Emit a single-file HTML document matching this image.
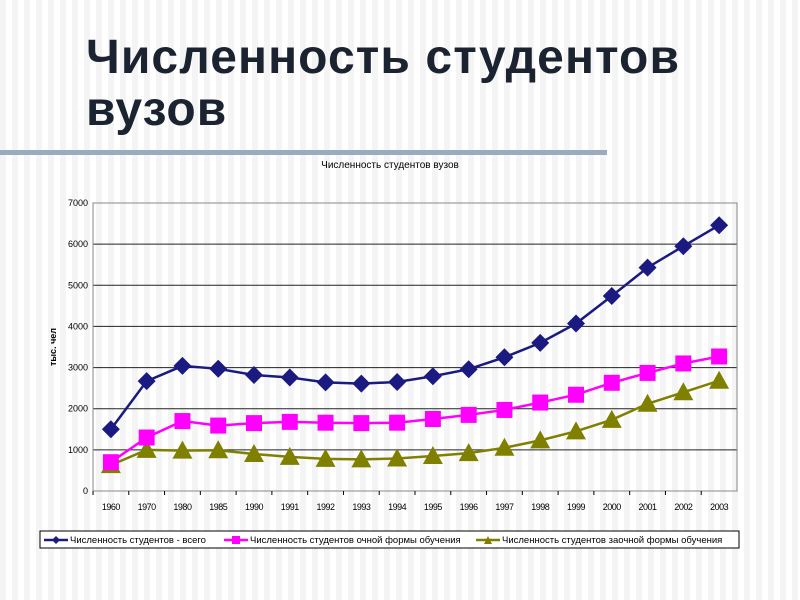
<!DOCTYPE html>
<html><head><meta charset="utf-8"><style>
html,body{margin:0;padding:0;width:800px;height:600px;overflow:hidden;font-family:"Liberation Sans","DejaVu Sans",sans-serif;}
body{background:repeating-linear-gradient(90deg,#f4f4f4 0,#f4f4f4 6px,#ffffff 6px,#ffffff 12px);}
</style></head><body>
<div style="position:absolute;left:86px;top:32px;font:bold 48px 'Liberation Sans',sans-serif;letter-spacing:1.1px;color:#1c2330;line-height:52px;">Численность студентов<br>вузов</div>
<div style="position:absolute;left:0;top:150px;width:607px;height:5px;background:#9aaabf;"></div>
<svg id="chart" width="800" height="600" style="position:absolute;left:0;top:0">
<text x="390" y="168" font-size="10" text-anchor="middle" font-family="Liberation Sans">Численность студентов вузов</text>
<text transform="translate(56,347) rotate(-90)" font-size="9" font-weight="bold" text-anchor="middle" font-family="Liberation Sans">тыс. чел</text>
<g id="grid"></g><g id="series"></g>
<g>
<rect x="40" y="531" width="699" height="17" fill="#fff" stroke="#000" stroke-width="1"/>
<line x1="44" y1="540" x2="68" y2="540" stroke="#1a1a80" stroke-width="2.5"/><path d="M56 536 L60 540 L56 544 L52 540Z" fill="#1a1a80"/>
<text x="70" y="543" font-size="9.5" font-family="Liberation Sans">Численность студентов - всего</text>
<line x1="224" y1="540" x2="248" y2="540" stroke="#ff00ff" stroke-width="2.5"/><rect x="232" y="536" width="8" height="8" fill="#ff00ff"/>
<text x="250" y="543" font-size="9.5" font-family="Liberation Sans">Численность студентов очной формы обучения</text>
<line x1="476" y1="540" x2="500" y2="540" stroke="#808000" stroke-width="2.5"/><path d="M488 536 L492 544 L484 544Z" fill="#808000"/>
<text x="502" y="543" font-size="9.5" font-family="Liberation Sans">Численность студентов заочной формы обучения</text>
</g>
</svg>
<script>
const categories=["1960","1970","1980","1985","1990","1991","1992","1993","1994","1995","1996","1997","1998","1999","2000","2001","2002","2003"];
const totalValues=[1500,2670,3040,2970,2820,2760,2640,2610,2650,2790,2960,3250,3600,4070,4740,5430,5950,6460];
const dayValues=[700,1300,1700,1590,1650,1680,1660,1650,1660,1750,1850,1970,2150,2340,2630,2870,3100,3270];
const extramuralValues=[630,1000,980,990,900,830,780,770,790,850,920,1050,1230,1450,1730,2120,2400,2680];
const yTicks=[0,1000,2000,3000,4000,5000,6000,7000];
const NS="http://www.w3.org/2000/svg";
const X0=93,X1=737,Y0=491,Y1=203;
const step=(X1-X0)/categories.length;
const xs=i=>X0+step*(i+0.5);
const ys=v=>Y0-(v/7000)*(Y0-Y1);
function mk(t,a,p){const e=document.createElementNS(NS,t);for(const k in a)e.setAttribute(k,a[k]);p.appendChild(e);return e;}
const g=document.getElementById('grid');
yTicks.forEach(v=>{
 const l=mk('line',{x1:X0,x2:X1,y1:ys(v),y2:ys(v),stroke:v===0?'#000':'#222','stroke-width':1},g);
 
 
 const t=mk('text',{x:X0-5,y:ys(v)+3,'font-size':9,'text-anchor':'end','font-family':'Liberation Sans'},g);t.textContent=v;
 
 
});
mk('line',{x1:X0,x2:X0,y1:Y1,y2:Y0,stroke:'#000'},g);
mk('rect',{x:X0,y:Y1,width:X1-X0,height:Y0-Y1,fill:'none',stroke:'#888'},g);
categories.forEach((c,i)=>{
 mk('line',{x1:X0+step*i,x2:X0+step*i,y1:Y0,y2:Y0+4,stroke:'#000'},g);
 const t=mk('text',{x:xs(i),y:Y0+19,'font-size':9,'text-anchor':'middle','font-family':'Liberation Sans','letter-spacing':'-0.5'},g);t.textContent=c;
 
 
});
const s=document.getElementById('series');
function series(vals,color,shape,name){
 const pl=mk('polyline',{points:vals.map((v,i)=>xs(i)+','+ys(v)).join(' '),fill:'none',stroke:color,'stroke-width':2.5},s);
 
 
 vals.forEach((v,i)=>{
  const x=xs(i),y=ys(v);let m;
  if(shape==='d')m=mk('path',{d:`M${x} ${y-9}L${x+9} ${y}L${x} ${y+9}L${x-9} ${y}Z`,fill:color},s);
  else if(shape==='s')m=mk('rect',{x:x-8,y:y-8,width:16,height:16,fill:color},s);
  else m=mk('path',{d:`M${x} ${y-10}L${x+10} ${y+8}L${x-10} ${y+8}Z`,fill:color},s);
  
  
 });
}
series(extramuralValues,'#808000','t','extramural');
series(dayValues,'#ff00ff','s','full-time');
series(totalValues,'#1a1a80','d','total');
</script>
</body></html>
